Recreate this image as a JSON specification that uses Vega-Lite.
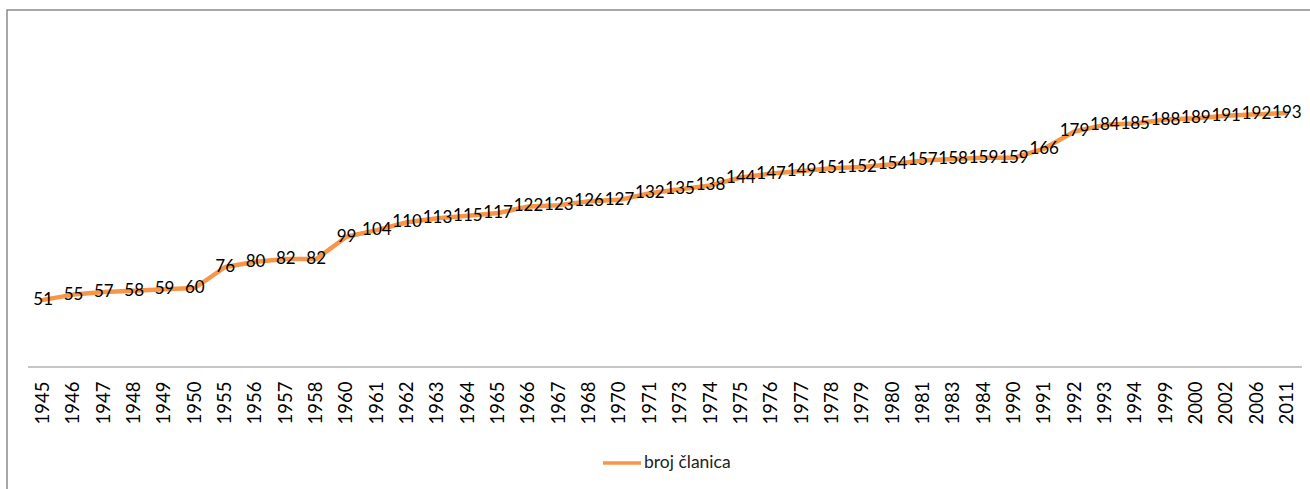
{
  "$schema": "https://vega.github.io/schema/vega-lite/v6.json",
  "autosize": {"type": "none"},
  "padding": {"left": 7, "top": 10, "right": 0, "bottom": 0},
  "width": 1316,
  "height": 485,
  "background": "white",
  "config": {
    "view": {"stroke": "#8a8a8a", "strokeWidth": 1.5},
    "font": "Lato"
  },
  "data": {
    "values": [
      {"year": "1945", "value": 51}, {"year": "1946", "value": 55}, {"year": "1947", "value": 57},
      {"year": "1948", "value": 58}, {"year": "1949", "value": 59}, {"year": "1950", "value": 60},
      {"year": "1955", "value": 76}, {"year": "1956", "value": 80}, {"year": "1957", "value": 82},
      {"year": "1958", "value": 82}, {"year": "1960", "value": 99}, {"year": "1961", "value": 104},
      {"year": "1962", "value": 110}, {"year": "1963", "value": 113}, {"year": "1964", "value": 115},
      {"year": "1965", "value": 117}, {"year": "1966", "value": 122}, {"year": "1967", "value": 123},
      {"year": "1968", "value": 126}, {"year": "1970", "value": 127}, {"year": "1971", "value": 132},
      {"year": "1973", "value": 135}, {"year": "1974", "value": 138}, {"year": "1975", "value": 144},
      {"year": "1976", "value": 147}, {"year": "1977", "value": 149}, {"year": "1978", "value": 151},
      {"year": "1979", "value": 152}, {"year": "1980", "value": 154}, {"year": "1981", "value": 157},
      {"year": "1983", "value": 158}, {"year": "1984", "value": 159}, {"year": "1990", "value": 159},
      {"year": "1991", "value": 166}, {"year": "1992", "value": 179}, {"year": "1993", "value": 184},
      {"year": "1994", "value": 185}, {"year": "1999", "value": 188}, {"year": "2000", "value": 189},
      {"year": "2002", "value": 191}, {"year": "2006", "value": 192}, {"year": "2011", "value": 193}
    ]
  },
  "encoding": {
    "x": {
      "field": "year", "type": "ordinal", "sort": null,
      "scale": {"paddingInner": 0, "paddingOuter": 0.692},
      "axis": {
        "title": null, "orient": "bottom", "offset": -128,
        "domain": false, "ticks": false, "grid": false,
        "labelAngle": 270, "labelPadding": 14,
        "labelFont": "Lato", "labelFontSize": 18.5, "labelColor": "#000000"
      }
    },
    "y": {
      "field": "value", "type": "quantitative",
      "scale": {"domain": [-97.3, 271.3], "nice": false, "zero": false},
      "axis": null
    }
  },
  "layer": [
    {
      "mark": {"type": "line", "strokeWidth": 4.5, "strokeJoin": "round", "strokeCap": "round"},
      "encoding": {
        "color": {
          "datum": "broj članica",
          "scale": {"range": ["#F79646"]},
          "legend": {
            "title": null, "orient": "none", "legendX": 594, "legendY": 432,
            "symbolType": "stroke", "symbolSize": 1444, "symbolStrokeWidth": 3.5,
            "labelFont": "Lato", "labelFontSize": 17.5, "labelColor": "#222222",
            "labelOffset": 1
          }
        }
      }
    },
    {
      "mark": {"type": "text", "font": "Lato", "fontSize": 17, "color": "#000000", "align": "center", "baseline": "middle"},
      "encoding": {"text": {"field": "value", "type": "quantitative"}}
    },
    {
      "data": {"values": [{"s": "1945", "e": "2011", "z": 0}]},
      "mark": {"type": "rule", "color": "#b3b3b3", "strokeWidth": 1.5},
      "encoding": {
        "x": {"field": "s", "type": "ordinal", "bandPosition": 0},
        "x2": {"field": "e", "bandPosition": 1},
        "y": {"field": "z", "type": "quantitative"}
      }
    }
  ]
}
